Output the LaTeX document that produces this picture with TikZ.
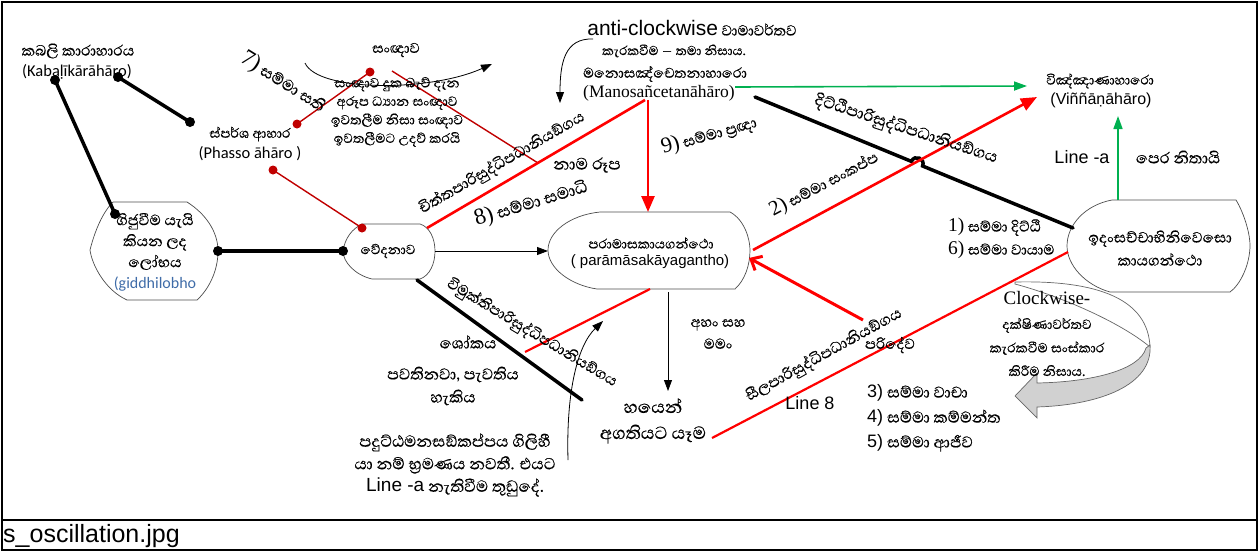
\documentclass[tikz,border=0pt]{standalone}
\usepackage{fontspec}
\usetikzlibrary{arrows.meta}
\newfontfamily\si[Script=Sinhala, FakeBold=0.4]{Abhaya Libre}
\newfontfamily\ar{Liberation Sans}
\newfontfamily\tm{Liberation Serif}
\newfontfamily\ca{Carlito}
\definecolor{myred}{HTML}{FF0000}
\definecolor{dred}{HTML}{C00000}
\definecolor{mygreen}{HTML}{00B050}
\definecolor{gblue}{HTML}{3F6CA8}
\tikzset{
  tx/.style={inner sep=0pt, align=center},
  shapeline/.style={draw=black!70, line width=0.7pt},
  thickblack/.style={line width=3.5pt, line cap=round},
  thinred/.style={draw=dred, line width=1.4pt},
  thickred/.style={draw=myred, line width=2.6pt},
  greenarrow/.style={draw=mygreen, line width=1.6pt, -{Triangle[length=13pt,width=9pt]}, color=mygreen},
  thinarrow/.style={draw=black, line width=0.8pt, -{Triangle[length=11pt,width=8pt]}},
  redtip/.style={-{Triangle[length=16pt,width=13pt]}},
}
\begin{document}
\begin{tikzpicture}[x=1pt,y=-1pt]
\useasboundingbox (0,0) rectangle (1260,552);
\draw[line width=1.5pt] (2,2) rectangle (1257,550);
\draw[line width=1.5pt] (2,520) -- (1257,520);
\node[tx, anchor=west, font=\ar\fontsize{25}{28}\selectfont] (cap) at (3,536) {s\_oscillation.jpg};

% ---------- coordinates ----------
\coordinate (kd1) at (55,80);
\coordinate (kd2) at (118,77);
\coordinate (kd3) at (190,122);
\coordinate (gd1) at (115,214);
\coordinate (gd2) at (218,251);
\coordinate (vd1) at (343,251);
\coordinate (pd1) at (297,124);
\coordinate (sd1) at (370,72);
\coordinate (pd2) at (273,170);
\coordinate (vd2) at (362,228);
\coordinate (sst) at (392,71);
\coordinate (sse) at (538,163);
\coordinate (vr) at (435,251);
\coordinate (pl) at (548,251);
\coordinate (ctA) at (427,228);
\coordinate (mB) at (645,100);
\coordinate (mA) at (648,100);
\coordinate (pT) at (648,212);
\coordinate (mR) at (755,97);
\coordinate (iL) at (1073,228);
\coordinate (pR) at (753,250);
\coordinate (vT) at (1037,97);
\coordinate (g1) at (735,87);
\coordinate (g2) at (1027,86);
\coordinate (iT) at (1118,200);
\coordinate (vB) at (1118,116);
\coordinate (vbl) at (417,280);
\coordinate (vbe) at (582,400);
\coordinate (rs) at (525,352);
\coordinate (pB) at (650,289);
\coordinate (pB2) at (668,292);
\coordinate (hT) at (668,391);
\coordinate (yE) at (712,438);
\coordinate (iL2) at (1068,252);
\coordinate (pdv) at (863,320);
\coordinate (pR2) at (749,258);
\coordinate (h1) at (911.4,161.4);
\coordinate (h2) at (922.6,166.0);

% ---------- shapes ----------
\draw[shapeline] (113,202) -- (187,202) .. controls (206,214) and (218,232) .. (218,251)
  .. controls (218,272) and (208,290) .. (197,300) -- (127,300)
  .. controls (105,290) and (92,265) .. (90,250) .. controls (95,230) and (103,212) .. (113,202);
\draw[shapeline] (362,224) -- (420,224) .. controls (440,230) and (440,272) .. (420,279) -- (372,279)
  .. controls (355,275) and (343,262) .. (343,251) .. controls (345,238) and (352,229) .. (362,224);
\draw[shapeline] (600,212) -- (730,212) .. controls (745,220) and (750,240) .. (750,250)
  .. controls (750,265) and (745,280) .. (735,289) -- (597,289)
  .. controls (570,285) and (548,268) .. (548,250) .. controls (548,232) and (570,215) .. (600,212);
\draw[shapeline] (1112,200) -- (1236,200) .. controls (1245,215) and (1250,235) .. (1250,245)
  .. controls (1250,265) and (1240,285) .. (1230,292) -- (1110,292)
  .. controls (1085,285) and (1067,265) .. (1067,246) .. controls (1067,225) and (1085,205) .. (1112,200);

% big curved clockwise arrow
\filldraw[fill=white, draw=black!60, line width=0.7pt] (1015,282) .. controls (1100,280) and (1148,300) .. (1150,347)
  .. controls (1120,322) and (1060,296) .. (1015,284) -- cycle;
\filldraw[fill=black!18, draw=black!60, line width=0.7pt] (1150,345) .. controls (1153,385) and (1100,405) .. (1037,407)
  -- (1037,418) -- (1015,396) -- (1037,373) -- (1037,383) .. controls (1092,382) and (1140,370) .. (1146,348) -- cycle;

% ---------- black thick connectors ----------
\draw[thickblack] (kd1) -- (gd1);
\draw[thickblack] (kd2) -- (kd3);
\draw[thickblack] (gd2) -- (vd1);
\draw[thickblack] (mR) -- (h1) .. controls (914.5,154) and (925.6,158.6) .. (h2) -- (iL);
\draw[thickblack] (vbl) -- (vbe);

% ---------- red connectors ----------
\draw[thinred] (pd1) -- (sd1);
\draw[thinred] (pd2) -- (vd2);
\draw[thinred] (sst) -- (sse);
\draw[thickred] (ctA) -- (mB);
\draw[thickred, redtip, color=myred] (mA) -- (pT);
\draw[thickred, redtip, color=myred] (pR) -- (vT);
\draw[draw=myred, line width=2.2pt] (rs) -- (pB);
\draw[draw=myred, line width=2.2pt] (yE) -- (iL2);
\draw[draw=myred, line width=3pt, -{Straight Barb[length=9pt,width=16pt]}, color=myred] (pdv) -- (pR2);

% ---------- green ----------
\draw[greenarrow] (g1) -- (g2);
\draw[greenarrow] (iT) -- (vB);

% ---------- thin black arrows ----------
\draw[thinarrow] (vr) -- (pl);
\draw[thinarrow] (pB2) -- (hT);
\coordinate (a1s) at (305,63);
\coordinate (a1e) at (492,64);
\draw[thinarrow] (a1s) .. controls (318,92) and (430,92) .. (a1e);
\coordinate (a2s) at (593,39);
\coordinate (a2e) at (560,103);
\draw[thinarrow] (a2s) .. controls (565,38) and (560,62) .. (a2e);
\coordinate (a3s) at (568,460);
\coordinate (a3e) at (603,321);
\draw[thinarrow] (a3s) .. controls (566,390) and (578,345) .. (a3e);

% ---------- dots ----------
\foreach \p in {kd1,kd2,kd3,gd1,gd2,vd1} \fill[black] (\p) circle (5pt);
\foreach \p in {pd1,sd1,pd2,vd2} \fill[dred] (\p) circle (4.5pt);

% ---------- texts ----------
\node[tx, font=\si\fontsize{19}{22}\selectfont] (kab1) at (78,51) {කබලි කාරාහාරය};
\node[tx, font=\ca\fontsize{16.5}{19}\selectfont] (kab2) at (77,72) {(Kabaḷīkārāhāro)};
\node[tx, font=\si\fontsize{17}{20}\selectfont] (spa1) at (250,134) {ස්පර්ශ ආහාර};
\node[tx, font=\ca\fontsize{16.5}{19}\selectfont] (spa2) at (250,154) {(Phasso āhāro )};
\node[tx, font=\si\fontsize{20}{23}\selectfont, rotate=-32] (s7) at (283,82) {{\tm\fontsize{23}{24}\selectfont 7)} සම්මා සති};
\node[tx, font=\si\fontsize{18}{21}\selectfont] (san) at (396,50) {සංඥාව};
\node[tx, font=\si\fontsize{17}{18.5}\selectfont] (sanb) at (397,112) {සංඥාව දුක බැව් දැන\\අරූප ධ්^^^^200dයාන සංඥාව\\ඉවතලීම නිසා සංඥාව\\ඉවතලීමට උදව් කරයි};
\node[tx, font=\si\fontsize{18.5}{20}\selectfont] (ac1) at (692,28) {{\ar\fontsize{21}{24}\selectfont anti-clockwise} වාමාවර්තව};
\node[tx, font=\si\fontsize{16.5}{20}\selectfont] (ac2) at (674,51) {කැරකවීම – තමා නිසාය.};
\node[tx, font=\si\fontsize{18}{20}\selectfont] (mn1) at (665,74) {මනොසඤ්චෙතනාහාරො};
\node[tx, font=\tm\fontsize{17.5}{20}\selectfont] (mn2) at (659,93) {(Manosañcetanāhāro)};
\node[tx, font=\si\fontsize{17}{20}\selectfont] (vn1) at (1100,81) {විඤ්ඤාණාහාරො};
\node[tx, font=\ar\fontsize{16}{19}\selectfont] (vn2) at (1101,100) {(Viññāṇāhāro)};
\node[tx, font=\ar\fontsize{18}{21}\selectfont] (la) at (1082,157) {Line -a};
\node[tx, font=\si\fontsize{20}{23}\selectfont] (pn) at (1178,157) {පෙර නිතායි};
\node[tx, font=\si\fontsize{20.5}{23}\selectfont, rotate=-18] (dit) at (906,129) {දිට්ඨිපාරිසුද්ධිපධානියඞ්ගය};
\node[tx, font=\si\fontsize{19}{22}\selectfont, rotate=28] (s2) at (824,184) {{\tm\fontsize{21}{24}\selectfont 2)} සම්මා සංකප්ප};
\node[tx, font=\si\fontsize{19.5}{21}\selectfont, rotate=30] (cit) at (502,163) {චිත්තපාරිසුද්ධිපධානියඞ්ගය};
\node[tx, font=\si\fontsize{21}{24}\selectfont, rotate=17] (s8) at (531,203) {{\tm\fontsize{23}{26}\selectfont 8)} සම්මා සමාධි};
\node[tx, font=\si\fontsize{19}{22}\selectfont, rotate=16] (s9) at (709,135) {{\tm\fontsize{22}{24}\selectfont 9)} සම්මා ප්^^^^200dරඥා};
\node[tx, font=\si\fontsize{21}{24}\selectfont] (nr) at (587,165) {නාම රූප};
\node[tx, font=\si\fontsize{19}{21}\selectfont] (gid) at (155,252) {ගිජුවීම යැයි\\කියන ලද\\ලෝභය\\{\ca\fontsize{16}{18}\selectfont\color{gblue}(giddhilobho}};
\node[tx, font=\si\fontsize{17}{20}\selectfont] (ved) at (388,251) {වේදනාව};
\node[tx, font=\si\fontsize{17}{20}\selectfont] (par1) at (651,243) {පරාමාසකායගන්ථො};
\node[tx, font=\ar\fontsize{15}{18}\selectfont] (par2) at (650,262) {( parāmāsakāyagantho)};
\node[tx, font=\si\fontsize{19}{22}\selectfont, rotate=-31] (vim) at (532,333) {විමුක්තිපාරිසුද්ධිපධානියඞ්ගය};
\node[tx, font=\si\fontsize{20}{23}\selectfont] (sok) at (468,342) {ශෝකය};
\node[tx, font=\si\fontsize{20}{23}\selectfont] (pav) at (453,386) {පවතිනවා, පැවතිය\\හැකිය};
\node[tx, font=\si\fontsize{20.5}{22.5}\selectfont] (pad) at (455,465) {පදුට්ඨමනසඞ්කප්පය ගිලිහී\\යා නම් භ්^^^^200dරමණය නවතී. එයට\\{\ar\fontsize{19}{20}\selectfont Line -a} නැතිවීම තුඩුදේ.};
\node[tx, font=\si\fontsize{18.5}{22}\selectfont] (aha) at (718,334) {අහං සහ\\මමං};
\node[tx, font=\si\fontsize{22.5}{26}\selectfont] (hay) at (653,421) {හයෙන්\\අගතියට යෑම};
\node[tx, font=\si\fontsize{19.5}{22}\selectfont, rotate=29] (sil) at (824,355) {සීලපාරිසුද්ධිපධානියඞ්ගය};
\node[tx, font=\ar\fontsize{18}{21}\selectfont] (l8) at (810,403) {Line 8};
\node[tx, font=\si\fontsize{18.5}{21}\selectfont] (pari) at (890,345) {පරිදේව};
\node[tx, font=\si\fontsize{18.5}{21}\selectfont, anchor=west] (s1) at (948,227) {{\tm\fontsize{19.5}{20}\selectfont 1)} සම්මා දිට්ඨි};
\node[tx, font=\si\fontsize{18.5}{21}\selectfont, anchor=west] (s6) at (948,250) {{\tm\fontsize{19.5}{20}\selectfont 6)} සම්මා වායාම};
\node[tx, font=\si\fontsize{19}{23}\selectfont] (ida) at (1160,248) {ඉදංසච්චාභිනිවෙසො\\කායගන්ථො};
\node[tx, font=\tm\fontsize{19}{22}\selectfont] (cw) at (1047,298) {Clockwise-};
\node[tx, font=\si\fontsize{17}{23.5}\selectfont] (cw2) at (1047,347) {දක්ෂිණාවර්තව\\කැරකවීම සංස්කාර\\කිරීම නිසාය.};
\node[tx, font=\si\fontsize{20}{22}\selectfont, anchor=west] (s3) at (867,393) {{\ar\fontsize{18}{20}\selectfont 3)} සම්මා වාචා};
\node[tx, font=\si\fontsize{20}{22}\selectfont, anchor=west] (s4) at (867,418) {{\ar\fontsize{18}{20}\selectfont 4)} සම්මා කම්මන්ත};
\node[tx, font=\si\fontsize{20}{22}\selectfont, anchor=west] (s5) at (867,443) {{\ar\fontsize{18}{20}\selectfont 5)} සම්මා ආජීව};
\end{tikzpicture}
\end{document}
